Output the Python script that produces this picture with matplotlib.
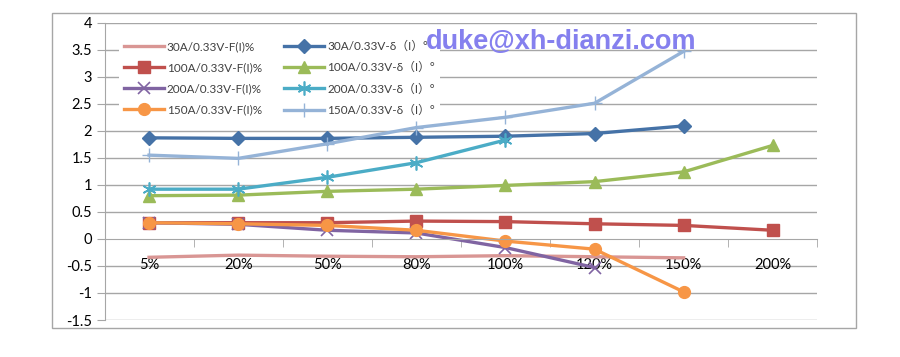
import matplotlib
matplotlib.use("Agg")
import matplotlib.pyplot as plt
from matplotlib.patches import Rectangle
from matplotlib.ticker import FuncFormatter, MultipleLocator

plt.rcParams['font.family'] = ['Lato', 'Noto Sans CJK SC', 'DejaVu Sans']
plt.rcParams['axes.unicode_minus'] = False

categories = ['5%', '20%', '50%', '80%', '100%', '120%', '150%', '200%']

f30 = [-0.34, -0.30, -0.32, -0.33, -0.31, -0.33, -0.35]
f100 = [0.30, 0.30, 0.30, 0.33, 0.32, 0.28, 0.25, 0.16]
f200 = [0.30, 0.27, 0.16, 0.11, -0.16, -0.53]
f150 = [0.30, 0.28, 0.25, 0.16, -0.04, -0.19, -0.98]

d30 = [1.87, 1.86, 1.86, 1.88, 1.90, 1.95, 2.09]
d100 = [0.80, 0.81, 0.88, 0.92, 0.99, 1.06, 1.24, 1.73]
d200 = [0.92, 0.92, 1.14, 1.41, 1.83]
d150 = [1.55, 1.49, 1.76, 2.06, 2.25, 2.51, 3.47]

labels_f = ['30A/0.33V-F(I)%', '100A/0.33V-F(I)%', '200A/0.33V-F(I)%', '150A/0.33V-F(I)%']
labels_d = ['30A/0.33V-δ（I）°', '100A/0.33V-δ（I）°', '200A/0.33V-δ（I）°', '150A/0.33V-δ（I）°']

fig = plt.figure(figsize=(9, 3.57), dpi=100)
ax = fig.add_axes([104.5 / 900, 1 - 320 / 357, (817.3 - 104.5) / 900, (320 - 22.7) / 357])

lw = 2.4
handles = {}
handles['f30'], = ax.plot(range(len(f30)), f30, color='#D99694', lw=lw, zorder=2)
handles['d30'], = ax.plot(range(len(d30)), d30, color='#4572A7', lw=lw, marker='D', ms=7, zorder=2)
handles['f100'], = ax.plot(range(len(f100)), f100, color='#C0504D', lw=lw, marker='s', ms=8, zorder=2)
handles['d100'], = ax.plot(range(len(d100)), d100, color='#9BBB59', lw=lw, marker='^', ms=9, zorder=2)
handles['f200'], = ax.plot(range(len(f200)), f200, color='#8064A2', lw=lw, marker='x', ms=8, mew=1.2, zorder=2)
handles['d200'], = ax.plot(range(len(d200)), d200, color='#4BACC6', lw=lw, marker=(6, 2, 0), ms=10, mew=1.2, zorder=2)
handles['f150'], = ax.plot(range(len(f150)), f150, color='#F79646', lw=lw, marker='o', ms=8.5, zorder=2)
handles['d150'], = ax.plot(range(len(d150)), d150, color='#95B3D7', lw=lw, marker='+', ms=10, mew=1.0, zorder=2)

ax.set_xlim(-0.5, len(categories) - 0.5)
ax.set_ylim(-1.5, 4)

# gridlines drawn by hand so they stay under the series
for yv in [i * 0.5 for i in range(-3, 9)]:
    if yv != 0:
        ax.axhline(yv, color='#A6A6A6', lw=1, zorder=1)

for s in ['top', 'right']:
    ax.spines[s].set_visible(False)
ax.spines['left'].set_color('#A6A6A6')
ax.spines['bottom'].set_position(('data', 0))
ax.spines['bottom'].set_color('#A6A6A6')

ax.yaxis.set_major_locator(MultipleLocator(0.5))
ax.yaxis.set_major_formatter(FuncFormatter(lambda v, p: '{:g}'.format(v)))
ax.tick_params(axis='y', direction='out', length=6, color='#A6A6A6', labelsize=10.5, pad=3)

ax.set_xticks(range(len(categories)))
ax.set_xticklabels(categories)
ax.set_xticks([i - 0.5 for i in range(len(categories) + 1)], minor=True)
ax.tick_params(axis='x', which='major', length=0, labelsize=10.5, pad=14)
ax.tick_params(axis='x', which='minor', direction='out', length=6, color='#A6A6A6')

order = ['f30', 'f100', 'f200', 'f150', 'd30', 'd100', 'd200', 'd150']
leg = ax.legend([handles[k] for k in order], labels_f + labels_d, ncol=2,
                loc='upper left', bbox_to_anchor=(0.012, 0.975), fontsize=8.5,
                frameon=True, facecolor='white', edgecolor='none', framealpha=1,
                fancybox=False, handlelength=3.4, handletextpad=0.25,
                columnspacing=1.9, labelspacing=0.85, borderpad=0.4)
for t in leg.get_texts():
    t.set_color('#404040')

fig.text(426 / 900, 1 - 49 / 357, 'duke@xh-dianzi.com', fontsize=19.5, weight='bold',
         family='Liberation Sans', color='#8580EE', va='baseline', ha='left')

fig.add_artist(Rectangle((52 / 900, 1 - 327.7 / 357), (855.7 - 52) / 900, (327.7 - 12.7) / 357,
                         transform=fig.transFigure, fill=False, edgecolor='#A6A6A6', lw=1))

fig.savefig('out.png', dpi=100)
